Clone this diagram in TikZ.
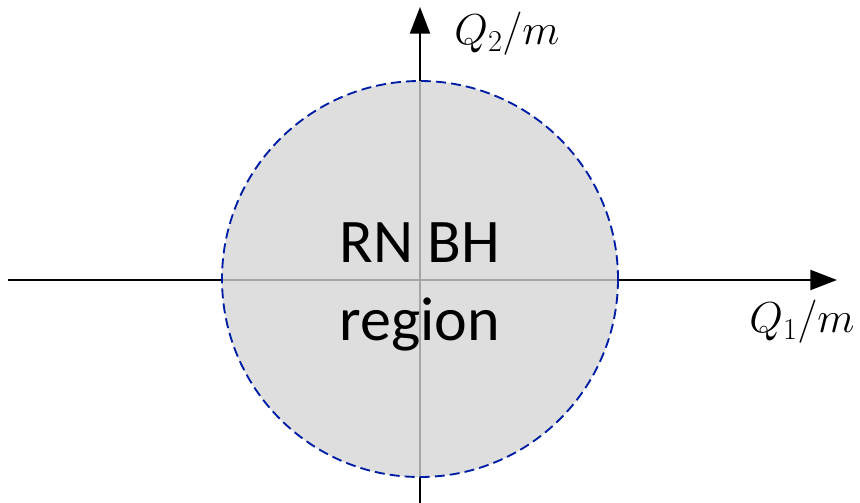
\documentclass[tikz,border=0pt]{standalone}
\usepackage{fix-cm}
\usepackage{fontspec}
\newfontfamily\calib{Carlito}
\usetikzlibrary{arrows.meta}
\definecolor{fillgray}{RGB}{222,222,222}
\definecolor{linegray}{RGB}{165,165,165}
\definecolor{dashblue}{RGB}{0,30,165}
\begin{document}
\begin{tikzpicture}[x=0.75pt,y=-0.75pt,
  axis/.style={line width=1.6pt,-{Triangle[length=20pt,width=15pt]}},
  inner/.style={draw=linegray,line width=1.6pt},
  border/.style={draw=dashblue,line width=1.4pt,dash pattern=on 7.5pt off 3.8pt},
  axlabel/.style={inner sep=0pt,font=\fontsize{32.5}{38}\selectfont},
  region/.style={align=center,inner sep=0pt,font=\calib\fontsize{46.5}{58}\selectfont}]
\useasboundingbox (0,0) rectangle (860,503);
\coordinate (xl) at (8,280);
\coordinate (xr) at (837,280);
\coordinate (yb) at (420,503);
\coordinate (yt) at (420,7);
\coordinate (c) at (420,279);
\draw[axis] (xl) -- (xr);
\draw[axis] (yb) -- (yt);
\fill[fillgray] (c) circle[radius=198];
\draw[inner] (222,280) -- (618,280);
\draw[inner] (420,81) -- (420,477);
\draw[border] (c) circle[radius=198];
\node[region,anchor=base] (txt) at (420,340) {RN BH\\region};
\node[axlabel] (q2) at (507,34) {$Q_2/m$};
\node[axlabel] (q1) at (802,322) {$Q_1/m$};
\end{tikzpicture}
\end{document}
